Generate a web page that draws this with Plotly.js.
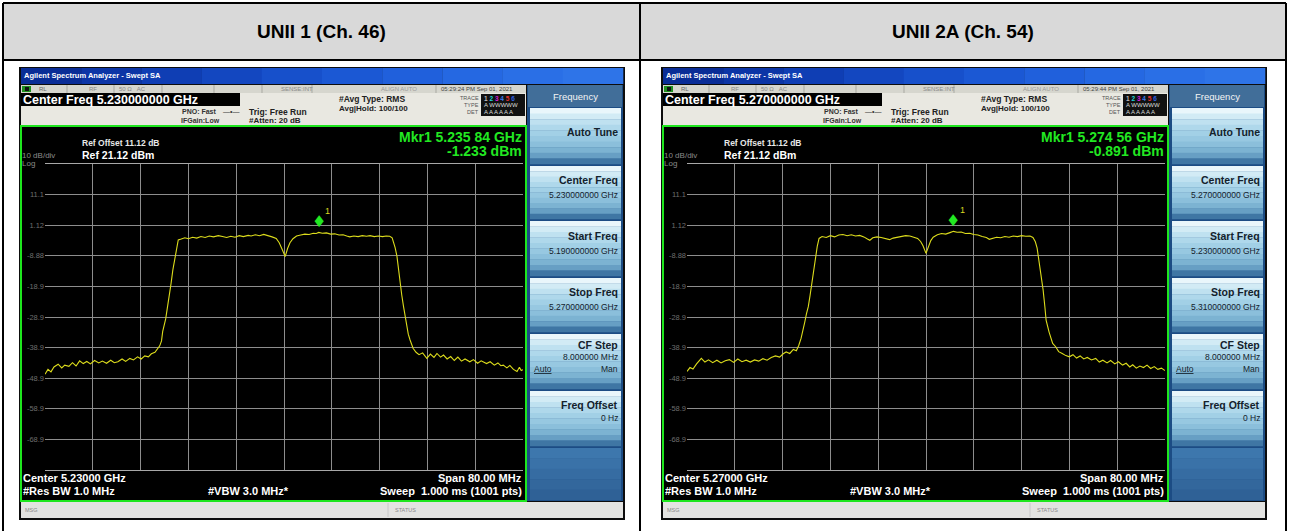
<!DOCTYPE html>
<html><head><meta charset="utf-8">
<script src="https://cdn.plot.ly/plotly-3.0.1.min.js"></script>
<style>html,body{margin:0;padding:0;background:#fff}#chart{width:1289px;height:531px}</style>
</head><body><div id="chart"></div>
<script>
// ---------------- DATA ----------------
const headers = ['UNII 1 (Ch. 46)', 'UNII 2A (Ch. 54)'];
const centerFreqText = ['5.230000000 GHz', '5.270000000 GHz'];
const startFreqText = ['5.190000000 GHz', '5.230000000 GHz'];
const stopFreqText = ['5.270000000 GHz', '5.310000000 GHz'];
const centerShortText = ['5.23000 GHz', '5.27000 GHz'];
const timeStamps = ['05:29:24 PM Sep 01, 2021', '05:29:44 PM Sep 01, 2021'];
const startGHz = [5.19, 5.23];
const stopGHz = [5.27, 5.31];
const mkrFreqText = ['5.235 84 GHz', '5.274 56 GHz'];
const mkrFreq = [5.23584, 5.27456];
const mkrLevel = [-1.233, -0.891];
const refLevel = 21.12;
const dbPerDiv = 10;
const yTickVals = [11.12, 1.12, -8.88, -18.88, -28.88, -38.88, -48.88, -58.88, -68.88];
const yTickText = ['11.1', '1.12', '-8.88', '-18.9', '-28.9', '-38.9', '-48.9', '-58.9', '-68.9'];

const freq1 = [5.1900,5.1905,5.1910,5.1915,5.1922,5.1928,5.1933,5.1940,5.1946,5.1952,5.1958,5.1964,5.1970,5.1976,5.1983,5.1990,5.1996,5.2003,5.2010,5.2016,5.2022,5.2029,5.2035,5.2042,5.2048,5.2055,5.2061,5.2067,5.2073,5.2078,5.2084,5.2088,5.2092,5.2095,5.2097,5.2102,5.2106,5.2111,5.2114,5.2117,5.2120,5.2123,5.2128,5.2134,5.2140,5.2147,5.2154,5.2161,5.2168,5.2175,5.2182,5.2190,5.2197,5.2204,5.2211,5.2218,5.2225,5.2232,5.2240,5.2245,5.2252,5.2259,5.2266,5.2273,5.2280,5.2287,5.2292,5.2297,5.2302,5.2306,5.2310,5.2315,5.2321,5.2328,5.2335,5.2342,5.2349,5.2354,5.2358,5.2364,5.2371,5.2378,5.2385,5.2392,5.2399,5.2405,5.2410,5.2417,5.2424,5.2431,5.2438,5.2444,5.2451,5.2458,5.2465,5.2471,5.2477,5.2481,5.2483,5.2486,5.2489,5.2492,5.2494,5.2497,5.2500,5.2503,5.2505,5.2508,5.2511,5.2514,5.2516,5.2521,5.2526,5.2532,5.2539,5.2545,5.2551,5.2556,5.2562,5.2567,5.2573,5.2579,5.2585,5.2591,5.2597,5.2603,5.2611,5.2617,5.2624,5.2630,5.2639,5.2645,5.2652,5.2658,5.2663,5.2667,5.2673,5.2678,5.2684,5.2690,5.2694,5.2697,5.2700];
const level1 = [-47.6,-46.0,-46.8,-45.2,-44.3,-45.5,-44.6,-45.0,-43.8,-44.9,-43.2,-44.1,-43.4,-44.2,-43.1,-43.9,-43.3,-44.0,-43.0,-43.8,-43.5,-42.6,-43.4,-42.4,-42.9,-41.9,-42.6,-41.6,-41.9,-40.9,-40.4,-39.4,-38.3,-36.7,-33.6,-29.5,-24.8,-17.9,-13.5,-10.3,-6.2,-3.7,-3.4,-3.0,-3.3,-2.8,-3.1,-2.6,-2.9,-2.4,-2.7,-2.3,-2.6,-2.9,-2.5,-2.8,-2.3,-2.6,-2.2,-2.4,-2.0,-2.3,-1.9,-2.2,-2.7,-3.2,-4.6,-6.8,-9.1,-6.5,-4.6,-3.3,-2.4,-2.1,-1.8,-1.9,-1.5,-1.6,-1.23,-1.5,-1.4,-1.8,-1.7,-2.1,-2.0,-2.4,-2.7,-2.4,-2.6,-2.3,-2.5,-2.3,-2.6,-2.4,-2.6,-2.4,-2.5,-3.0,-4.1,-6.2,-9.0,-13.8,-17.8,-21.6,-25.4,-29.0,-31.9,-34.5,-36.4,-38.2,-39.1,-40.4,-41.2,-40.6,-42.4,-41.0,-42.1,-40.8,-42.0,-41.3,-42.6,-41.8,-43.1,-42.0,-43.3,-42.6,-43.5,-42.8,-44.0,-43.2,-44.1,-43.5,-44.6,-43.9,-44.8,-44.6,-45.5,-44.7,-46.0,-46.7,-45.3,-46.4,-46.1];

const freq2 = [5.2300,5.2305,5.2310,5.2316,5.2324,5.2330,5.2336,5.2343,5.2350,5.2357,5.2364,5.2371,5.2378,5.2385,5.2392,5.2399,5.2406,5.2413,5.2420,5.2427,5.2434,5.2441,5.2448,5.2455,5.2461,5.2466,5.2472,5.2478,5.2483,5.2487,5.2491,5.2494,5.2497,5.2500,5.2503,5.2506,5.2509,5.2512,5.2515,5.2518,5.2521,5.2526,5.2533,5.2540,5.2547,5.2554,5.2561,5.2568,5.2575,5.2582,5.2589,5.2596,5.2602,5.2606,5.2611,5.2618,5.2625,5.2632,5.2639,5.2645,5.2652,5.2659,5.2666,5.2673,5.2680,5.2686,5.2691,5.2695,5.2700,5.2704,5.2708,5.2712,5.2719,5.2726,5.2733,5.2740,5.2746,5.2752,5.2759,5.2766,5.2773,5.2780,5.2787,5.2794,5.2801,5.2806,5.2811,5.2818,5.2825,5.2832,5.2839,5.2846,5.2853,5.2860,5.2867,5.2874,5.2879,5.2883,5.2886,5.2890,5.2893,5.2896,5.2899,5.2901,5.2906,5.2912,5.2917,5.2922,5.2928,5.2934,5.2940,5.2946,5.2952,5.2958,5.2964,5.2970,5.2977,5.2984,5.2990,5.2996,5.3003,5.3009,5.3016,5.3022,5.3029,5.3035,5.3041,5.3046,5.3052,5.3058,5.3064,5.3070,5.3076,5.3082,5.3088,5.3094,5.3100];
const level2 = [-46.7,-45.4,-45.9,-44.2,-42.4,-43.6,-42.9,-43.8,-43.0,-43.9,-43.2,-42.8,-43.7,-42.6,-43.5,-43.0,-43.6,-42.9,-43.3,-42.5,-43.0,-42.1,-41.6,-42.0,-40.9,-40.3,-40.8,-39.5,-39.9,-38.2,-35.8,-33.5,-30.6,-27.8,-25.5,-21.8,-17.6,-13.2,-9.4,-5.8,-3.2,-2.6,-2.9,-2.3,-2.7,-2.1,-1.9,-2.3,-2.0,-2.4,-2.2,-2.7,-3.4,-3.8,-3.0,-2.7,-2.9,-3.2,-3.6,-3.1,-2.8,-2.6,-2.3,-2.4,-2.8,-3.2,-4.2,-5.6,-8.1,-5.8,-3.9,-2.8,-2.0,-1.6,-1.8,-1.3,-0.89,-1.2,-1.1,-1.6,-1.5,-1.9,-2.1,-2.6,-2.9,-3.5,-3.1,-2.8,-3.0,-2.6,-2.8,-2.4,-2.6,-2.3,-2.5,-2.4,-2.9,-4.3,-6.4,-11.3,-15.5,-20.0,-25.6,-29.9,-33.8,-37.5,-38.6,-40.2,-40.8,-41.5,-41.9,-41.2,-42.3,-41.6,-42.6,-42.1,-42.9,-42.4,-43.6,-43.0,-43.9,-43.1,-44.2,-43.5,-44.6,-44.0,-45.2,-44.5,-45.6,-44.9,-45.4,-44.6,-45.7,-45.1,-46.0,-45.6,-46.4];

// ---------------- DRAWING ----------------
const W = 1289, H = 531;
const FONT = 'Liberation Sans, Arial, sans-serif';
const X = p => p / W, Y = p => 1 - p / H;
const shapes = [], ann = [];
function rect(x0, y0, x1, y1, fill, lc, lw) {
  shapes.push({type:'rect', xref:'paper', yref:'paper', x0:X(x0), x1:X(x1), y0:Y(y1), y1:Y(y0),
    fillcolor: fill || 'rgba(0,0,0,0)', line:{color: lc || 'rgba(0,0,0,0)', width: lw || 0}, layer:'below'});
}
function line(x0, y0, x1, y1, c, w) {
  shapes.push({type:'line', xref:'paper', yref:'paper', x0:X(x0), x1:X(x1), y0:Y(y0), y1:Y(y1),
    line:{color:c, width:w}, layer:'below'});
}
function txt(x, y, t, size, color, align, extra) {
  ann.push(Object.assign({xref:'paper', yref:'paper', x:X(x), y:Y(y), text:t, showarrow:false,
    xanchor: align || 'left', yanchor:'middle', borderpad:0,
    font:{family:FONT, size:size, color:color}}, extra || {}));
}
function bandsV(x0, y0, x1, y1, cols) {
  const h = (y1 - y0) / cols.length;
  cols.forEach((c, k) => rect(x0, y0 + k * h, x1, y0 + (k + 1) * h + 0.3, c));
}
function bandsH(x0, y0, x1, y1, cols) {
  const w = (x1 - x0) / cols.length;
  cols.forEach((c, k) => rect(x0 + k * w, y0, x0 + (k + 1) * w + 0.3, y1, c));
}
const titleCols = ['#0a2d96','#0c35a6','#0f3eb4','#1347c0','#1750cb','#1b58d4','#2060dc','#2568e2','#2a6fe6','#2e74e8'];
const btnCols = ['#e9f6fb','#d2ebf5','#bfe1f0','#afd8eb','#a2d0e6','#97c8e1','#8bbfdb','#7cb3d2','#679fc4','#3f76a4'];

// table
rect(3, 3, 1286, 60, '#d9d9d9');
line(3, 3, 1286, 3, '#000', 2);
line(3, 60, 1286, 60, '#000', 2);
line(3, 3, 3, 531, '#000', 2);
line(640, 3, 640, 531, '#000', 2);
line(1286, 3, 1286, 531, '#000', 2);
txt(321, 32, '<b>' + headers[0] + '</b>', 19, '#000', 'center');
txt(963, 32, '<b>' + headers[1] + '</b>', 19, '#000', 'center');

function panel(i) {
  const o = i * 642;
  const R = x => x + o;
  rect(R(19), 67, R(625), 520, '#0d0d0d');
  bandsH(R(21), 68, R(623), 84, titleCols);
  txt(R(23), 76, '<b>Agilent Spectrum Analyzer - Swept SA</b>', 7.5, '#ffffff');
  // status row
  rect(R(21), 85, R(526), 93, '#d6d6ce');
  rect(R(22), 86, R(31), 92, '#1f8f1f');
  rect(R(25), 87, R(29), 91, '#111');
  [67, 114, 162, 214, 262, 312, 436].forEach(x => line(R(x), 85, R(x), 93, '#a9a9a2', 1));
  txt(R(38), 89, 'RL', 6, '#6a6a6a');
  txt(R(88), 89, 'RF', 6, '#8a8a8a');
  txt(R(118), 89, '50 Ω   AC', 6, '#8a8a8a');
  txt(R(280), 89, 'SENSE:INT', 6, '#8a8a8a');
  txt(R(380), 89, 'ALIGN AUTO', 6, '#9a9a9a');
  txt(R(440), 89, timeStamps[i], 6, '#444');
  // info row
  rect(R(21), 93, R(526), 126, '#e9e8e1');
  rect(R(21), 93, R(240), 106, '#000');
  txt(R(22), 100, '<b>Center Freq ' + centerFreqText[i] + '</b>', 12.5, '#ffffff');
  txt(R(218), 112, '<b>PNO: Fast</b>', 7, '#333', 'right');
  txt(R(222), 112, '—•—', 7, '#333');
  txt(R(221), 121, '<b>IFGain:Low</b>', 7, '#333', 'right');
  txt(R(248), 112, '<b>Trig: Free Run</b>', 8.5, '#222');
  txt(R(248), 121, '<b>#Atten: 20 dB</b>', 8, '#222');
  txt(R(338), 99, '<b>#Avg Type: RMS</b>', 8.5, '#222');
  txt(R(338), 108, '<b>Avg|Hold: 100/100</b>', 8, '#222');
  txt(R(480), 98, 'TRACE', 5.5, '#555', 'right');
  txt(R(480), 105, 'TYPE', 5.5, '#555', 'right');
  txt(R(480), 112, 'DET', 5.5, '#555', 'right');
  rect(R(481), 94, R(525), 116, '#111');
  txt(R(483), 98, '<b><span style="color:#bbb">1</span> <span style="color:#1fd8d8">2</span> <span style="color:#d81fd8">3</span> <span style="color:#3a7af0">4</span> <span style="color:#e83030">5</span> <span style="color:#3060e0">6</span></b>', 6.5, '#fff');
  txt(R(483), 105, 'A WWWWW', 6, '#ddd');
  txt(R(483), 112, 'A A A A A A', 6, '#ddd');
  // display
  rect(R(21), 126, R(526), 501, '#000', '#1ee61e', 2);
  txt(R(81), 143, '<b>Ref Offset 11.12 dB</b>', 8.5, '#e8e8e8');
  txt(R(81), 155, '<b>Ref 21.12 dBm</b>', 10.5, '#ffffff');
  txt(R(21), 156, '10 dB/div', 8, '#8a8a8a');
  txt(R(21), 163, 'Log', 8, '#8a8a8a');
  txt(R(523), 137, '<b>Mkr1 ' + mkrFreqText[i] + '</b>', 14, '#22e822', 'right');
  txt(R(523), 151, '<b>' + mkrLevel[i].toFixed(3) + ' dBm</b>', 14, '#22e822', 'right');
  txt(R(22), 478, '<b>Center ' + centerShortText[i] + '</b>', 11, '#ffffff');
  txt(R(22), 491, '<b>#Res BW 1.0 MHz</b>', 11, '#ffffff');
  txt(R(207), 491, '<b>#VBW 3.0 MHz*</b>', 11, '#ffffff');
  txt(R(523), 478, '<b>Span 80.00 MHz</b>', 11, '#ffffff', 'right');
  txt(R(523), 491, '<b>Sweep  1.000 ms (1001 pts)</b>', 11, '#ffffff', 'right');
  // softkeys
  rect(R(527), 85, R(623), 501, '#1c4c84');
  rect(R(528), 85, R(622), 107, '#416e99');
  txt(R(575), 96, 'Frequency', 9.5, '#f4f4f4', 'center');
  const btns = [[108,164],[166,219],[221,276],[278,332],[334,389],[391,446]];
  btns.forEach(b => bandsV(R(530), b[0], R(621), b[1], btnCols));
  bandsV(R(530), 448, R(621), 500, ['#3d77ad','#3a72a8','#366ca2','#33679c','#2f6196']);
  const kc = '#14222c';
  txt(R(619), 132, '<b>Auto Tune</b>', 10.5, kc, 'right');
  txt(R(619), 180, '<b>Center Freq</b>', 10.5, kc, 'right');
  txt(R(619), 195, centerFreqText[i], 8.5, kc, 'right');
  txt(R(619), 236, '<b>Start Freq</b>', 10.5, kc, 'right');
  txt(R(619), 251, startFreqText[i], 8.5, kc, 'right');
  txt(R(619), 292, '<b>Stop Freq</b>', 10.5, kc, 'right');
  txt(R(619), 307, stopFreqText[i], 8.5, kc, 'right');
  txt(R(619), 345, '<b>CF Step</b>', 10.5, kc, 'right');
  txt(R(619), 357, '8.000000 MHz', 8.5, kc, 'right');
  txt(R(533), 369, '<u>Auto</u>', 8.5, kc, 'left');
  txt(R(619), 369, 'Man', 8.5, kc, 'right');
  txt(R(619), 405, '<b>Freq Offset</b>', 10.5, kc, 'right');
  txt(R(619), 418, '0 Hz', 8.5, kc, 'right');
  // bottom status bar
  rect(R(21), 502, R(623), 518, '#e3e3e1');
  line(R(388), 503, R(388), 517, '#c8c8c8', 1);
  txt(R(24), 510, 'MSG', 5.5, '#8a8a8a');
  txt(R(405), 510, 'STATUS', 5.5, '#8a8a8a', 'center');
}
panel(0); panel(1);

// marker annotations (data coordinates)
[0, 1].forEach(i => {
  const xr = i === 0 ? 'x' : 'x2', yr = i === 0 ? 'y' : 'y2';
  ann.push({xref:xr, yref:yr, x:mkrFreq[i], y:mkrLevel[i], text:'♦', showarrow:false,
    yshift:11, font:{family:'DejaVu Sans', size:16, color:'#22e822'}});
  ann.push({xref:xr, yref:yr, x:mkrFreq[i], y:mkrLevel[i], text:'1', showarrow:false,
    xshift:9, yshift:21, font:{family:FONT, size:9, color:'#d8d820'}});
});

function xax(i, d) {
  return {domain:d, range:[startGHz[i], stopGHz[i]], tick0:startGHz[i], dtick:(stopGHz[i]-startGHz[i])/10,
    showgrid:true, gridcolor:'#8d8d8d', gridwidth:1, showticklabels:false, ticks:'', zeroline:false,
    showline:true, mirror:true, linecolor:'#a8a8a8', linewidth:1, fixedrange:true, anchor: i === 0 ? 'y' : 'y2'};
}
function yax(i, d) {
  return {domain:d, range:[refLevel - 10 * dbPerDiv, refLevel], tickvals:yTickVals, ticktext:yTickText,
    showgrid:true, gridcolor:'#8d8d8d', gridwidth:1, ticks:'', zeroline:false, showline:false,
    tickfont:{family:FONT, size:7.5, color:'#6e6e6e'}, fixedrange:true, anchor: i === 0 ? 'x' : 'x2'};
}
const yd = [Y(470), Y(164)];
const data = [
  {x:freq1, y:level1, xaxis:'x', yaxis:'y', type:'scatter', mode:'lines', line:{color:'#dcdc1c', width:1.1}, hoverinfo:'skip'},
  {x:freq2, y:level2, xaxis:'x2', yaxis:'y2', type:'scatter', mode:'lines', line:{color:'#dcdc1c', width:1.1}, hoverinfo:'skip'}
];
const layout = {
  width:W, height:H, margin:{l:0, r:0, t:0, b:0}, paper_bgcolor:'#ffffff', plot_bgcolor:'rgba(0,0,0,0)',
  showlegend:false,
  xaxis: xax(0, [X(45), X(523)]), yaxis: yax(0, yd),
  xaxis2: xax(1, [X(687), X(1165)]), yaxis2: yax(1, yd),
  shapes: shapes, annotations: ann
};
Plotly.newPlot('chart', data, layout, {displayModeBar:false, staticPlot:true});
</script></body></html>
